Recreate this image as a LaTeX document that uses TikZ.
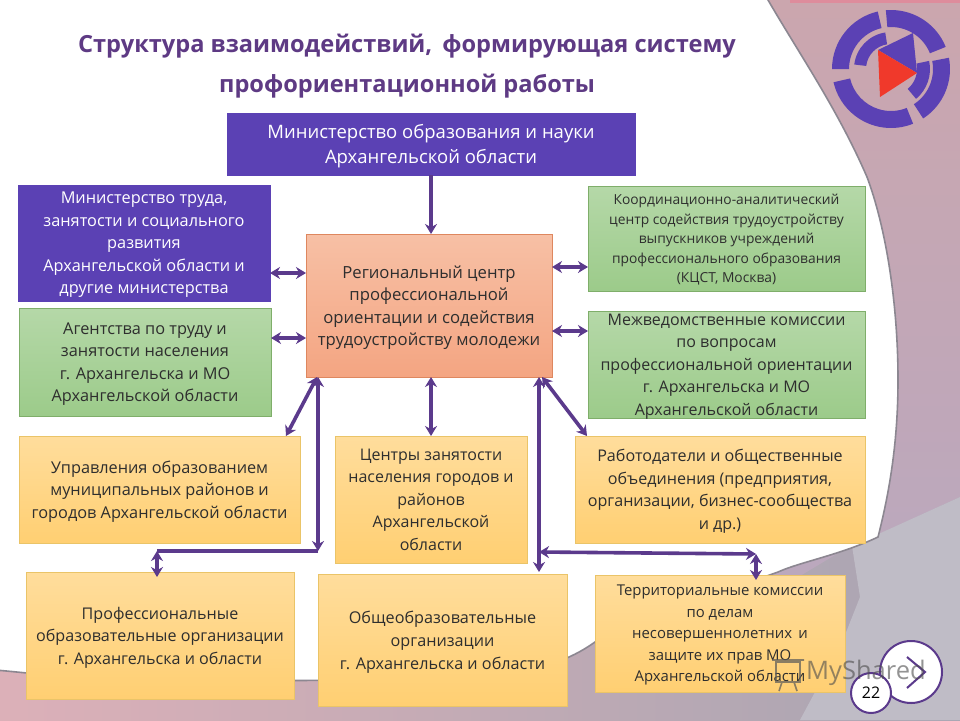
\documentclass[tikz,border=0pt]{standalone}
\usepackage{fontspec}
\setmainfont{Open Sans}
\usetikzlibrary{arrows.meta, calc, positioning}
\definecolor{linkpurple}{HTML}{5B3A8C}
\definecolor{titlepurple}{HTML}{5E3A84}
\definecolor{logoblue}{HTML}{5B41B4}
\definecolor{logored}{HTML}{F0392B}
\definecolor{bandleft}{HTML}{DCB0B8}
\definecolor{bandright}{HTML}{A8A5B2}
\definecolor{pinktop}{HTML}{CBA6AE}
\definecolor{pinkbottom}{HTML}{BAA8BE}
\definecolor{greyright}{HTML}{BFBCC6}
\definecolor{stripe}{HTML}{DE8C9C}
\definecolor{edgegrey}{HTML}{8C8791}
\definecolor{greentop}{HTML}{B5D8A8}
\definecolor{greenbottom}{HTML}{9CCB8A}
\definecolor{greenedge}{HTML}{7FAE6A}
\definecolor{yellowtop}{HTML}{FFDD9C}
\definecolor{yellowbottom}{HTML}{FFCF72}
\definecolor{yellowedge}{HTML}{EAC468}
\definecolor{orangetop}{HTML}{F7C0A5}
\definecolor{orangebottom}{HTML}{F4A582}
\definecolor{orangeedge}{HTML}{DE875F}
\newcommand{\fsz}[2]{\fontsize{#1}{#2}\selectfont}

\begin{document}
\begin{tikzpicture}[x=1pt, y=-1pt,
  box/.style={rectangle, draw, line width=.8pt, inner sep=0pt, outer sep=0pt, align=center, text depth=0pt, text=black!82},
  bluebox/.style={box, fill=logoblue, draw=logoblue, text=white},
  greenbox/.style={box, top color=greentop, bottom color=greenbottom, draw=greenedge},
  yellowbox/.style={box, top color=yellowtop, bottom color=yellowbottom, draw=yellowedge},
  orangebox/.style={box, top color=orangetop, bottom color=orangebottom, draw=orangeedge},
  link/.style={{Stealth[length=10pt, width=12pt]}-{Stealth[length=10pt, width=12pt]}, line width=3.6pt, linkpurple},
  logoarc/.style={fill=logoblue}]
\useasboundingbox (0,0) rectangle (960,720);

% background
\shade[left color=bandleft, right color=bandright] (0,480) rectangle (960,720);
\shade[top color=pinktop, bottom color=pinkbottom] (760,0) -- (960,0) -- (960,497) -- (840,552) -- (760,600) -- cycle;
\fill[greyright] (960,497) -- (852,546) -- (860,597) -- (843,640) -- (800,720) -- (960,720) -- cycle;
\fill[stripe] (790,0) rectangle (960,3);
\draw[fill=white, draw=edgegrey, line width=1.6pt]
  (-5,-5) -- (768,-5) -- (768,0) .. controls (800,55) and (838,110) .. (867,177)
  .. controls (885,225) and (898,300) .. (898,380)
  .. controls (898,440) and (890,490) .. (878,537)
  .. controls (840,555) and (800,562) .. (778,572)
  .. controls (700,600) and (640,620) .. (595,642)
  .. controls (570,660) and (540,670) .. (500,674)
  .. controls (400,682) and (200,682) .. (90,678)
  .. controls (50,676) and (20,672) .. (-5,670) -- cycle;

% logo
\coordinate (logoc) at (891,69);
\foreach \a/\b/\r/\R in {180/257/42/59, -95/-22/42/59, -11/57/42/59, 68/167/42/59, 187/261/25/37, -12/50/26/39}
  \fill[logoarc] ([shift={(\a:\R)}]logoc) arc (\a:\b:\R) -- ([shift={(\b:\r)}]logoc) arc (\b:\a:\r) -- cycle;
\fill[logoblue] (878,50) -- (913,33) -- (917,73) -- cycle;
\fill[logored] (878,50) -- (917,73) -- (880,97) -- cycle;

% title
\node[text=titlepurple, font=\fsz{23.6}{40}\bfseries, align=center] (title) at (407,66)
  {Структура взаимодействий,\, формирующая систему\\профориентационной работы};

% boxes
\node[bluebox, minimum width=408pt, minimum height=62pt, font=\fsz{18.5}{25}] (minobr) at (431,144)
  {Министерство образования и науки\\Архангельской области};
\node[bluebox, minimum width=252pt, minimum height=116pt, font=\fsz{16.3}{22.5}] (mintrud) at (144,243)
  {Министерство труда,\\занятости и социального\\развития\\Архангельской области и\\другие министерства};
\node[greenbox, minimum width=252pt, minimum height=108pt, font=\fsz{16.3}{22.5}] (agent) at (145,362)
  {Агентства по труду и\\занятости населения\\г. Архангельска и МО\\Архангельской области};
\node[orangebox, minimum width=246pt, minimum height=143pt, font=\fsz{16.7}{22.5}] (reg) at (429,305.5)
  {Региональный центр\\профессиональной\\ориентации и содействия\\трудоустройству молодежи};
\node[greenbox, minimum width=277pt, minimum height=105pt, font=\fsz{13.8}{19.5}] (koord) at (726.5,238.5)
  {Координационно-аналитический\\центр содействия трудоустройству\\выпускников учреждений\\профессионального образования\\(КЦСТ, Москва)};
\node[greenbox, minimum width=277pt, minimum height=107pt, font=\fsz{16}{22.5}] (mezh) at (726.5,364.5)
  {Межведомственные комиссии\\по вопросам\\профессиональной ориентации\\г. Архангельска и МО\\Архангельской области};
\node[yellowbox, minimum width=281pt, minimum height=107pt, font=\fsz{16.3}{22.5}] (upr) at (159.5,489.5)
  {Управления образованием\\муниципальных районов и\\городов Архангельской области};
\node[yellowbox, minimum width=192pt, minimum height=127pt, font=\fsz{16}{22.5}] (czn) at (431,499.5)
  {Центры занятости\\населения городов и\\районов\\Архангельской\\области};
\node[yellowbox, minimum width=290pt, minimum height=107pt, font=\fsz{16.1}{22.5}] (rabot) at (720,489.5)
  {Работодатели и общественные\\объединения (предприятия,\\организации, бизнес-сообщества\\и др.)};
\node[yellowbox, minimum width=268pt, minimum height=127pt, font=\fsz{16.1}{22.5}] (prof) at (160,635.5)
  {Профессиональные\\образовательные организации\\г. Архангельска и области};
\node[yellowbox, minimum width=249pt, minimum height=132pt, font=\fsz{16.2}{23}] (obsh) at (442.5,640)
  {Общеобразовательные\\организации\\г. Архангельска и области};
\node[yellowbox, minimum width=250pt, minimum height=117pt, font=\fsz{14.9}{21.5}] (terr) at (720,633.5)
  {Территориальные комиссии\\по делам\\несовершеннолетних\, и\\защите их прав МО\\Архангельской области};

% joints of the long lines
\coordinate (jleft) at (318,551);
\coordinate (jleftend) at (157,551);
\coordinate (jright) at (539,552);
\coordinate (jrightend) at (756,554);

% connectors
\draw[linkpurple, line width=3.6pt, -{Stealth[length=10pt, width=12pt]}] (minobr.south) -- (minobr.south |- reg.north);
\draw[link] (mintrud.east |- 0,273) -- (reg.west |- 0,273);
\draw[link] (agent.east |- 0,338) -- (reg.west |- 0,338);
\draw[link] (reg.east |- 0,267) -- (koord.west |- 0,267);
\draw[link] (reg.east |- 0,331) -- (mezh.west |- 0,331);
\draw[link] (reg.south -| czn.north) -- (czn.north);
\draw[link] (reg.south -| 317,0) -- (upr.north -| 286,0);
\draw[link] (reg.south -| 542,0) -- (rabot.north -| 587,0);
\draw[link] (jleft |- reg.south) -- (jleft);
\draw[link, -] (jleft) -- (jleftend);
\draw[link] (jleftend) -- (jleftend |- 0,577);
\draw[link] (jright |- reg.south) -- (jright |- 0,572);
\draw[link] (jright) -- (jrightend);
\draw[link] (jrightend) -- (jrightend |- 0,580);

% page number and next button
\node[circle, draw=linkpurple, line width=2pt, fill=white, minimum size=62pt, inner sep=0pt] (next) at (911,672) {};
\coordinate (nexttip) at (925,672);
\draw[linkpurple, line width=2pt] (907,657) -- (nexttip) -- (907,688);
\node[circle, draw=linkpurple, line width=2pt, fill=white, minimum size=40pt, inner sep=0pt, font=\fsz{16}{16}] (pagenum) at (871,693) {22};

% watermark
\draw[black!65, line width=1.6pt, opacity=.7] (776,662) rectangle (800,682) (772,660) -- (804,660) (782,682) -- (779,691) (794,682) -- (797,691);
\node[text=black!70, opacity=.6, font=\fsz{25.5}{26}, anchor=west, inner sep=0pt] (mark) at (806,673) {MyShared};
\end{tikzpicture}
\end{document}
